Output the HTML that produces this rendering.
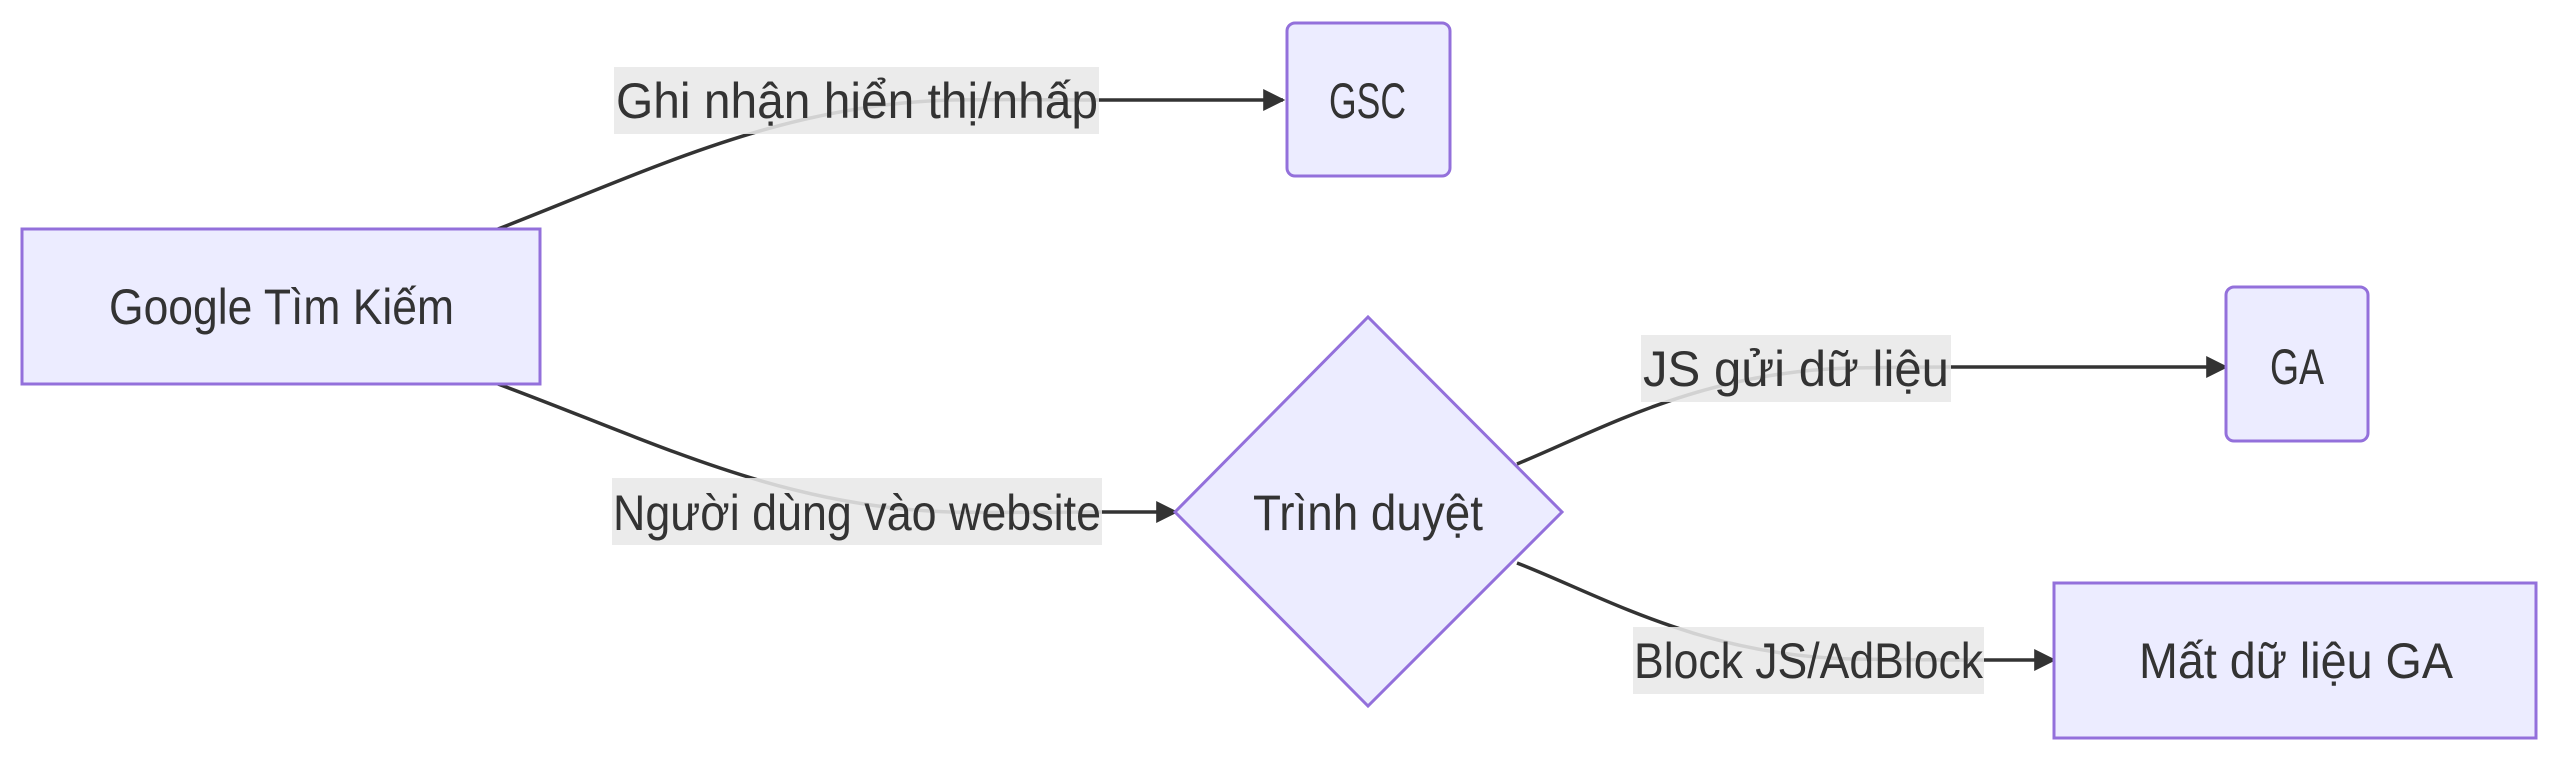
<!DOCTYPE html>
<html><head><meta charset="utf-8"><style>
html,body{margin:0;padding:0;background:#fff;width:2560px;height:760px;overflow:hidden}
text{font-family:"Liberation Sans",sans-serif;fill:#333;font-size:50px}
</style></head><body>
<svg width="2560" height="760" viewBox="0 0 2560 760" xmlns="http://www.w3.org/2000/svg">
<defs><marker id="b" viewBox="0 0 10 10" refX="9" refY="5" markerWidth="22" markerHeight="22" markerUnits="userSpaceOnUse" orient="auto"><path d="M0,0 L10,5 L0,10z" fill="#333"/></marker></defs>
<g fill="none" stroke="#333" stroke-width="3.5">
<path d="M498,229 C650,170 780,105 950,100 C1010,99 1050,100 1100,100 L1283,100" marker-end="url(#b)"/>
<path d="M498,384 C650,440 780,507 950,512 C1010,513 1050,512 1100,512 L1176,512" marker-end="url(#b)"/>
<path d="M1517,464 C1600,430 1700,372 1850,368 C1900,367 1930,367 1950,367 L2226,367" marker-end="url(#b)"/>
<path d="M1517,563 C1600,595 1700,655 1850,659 C1920,660 1950,660 1984,660 L2054,660" marker-end="url(#b)"/>
</g>
<g fill="#e8e8e8" opacity="0.88">
<rect x="614" y="67" width="485" height="67"/>
<rect x="612" y="478" width="490" height="67"/>
<rect x="1641" y="335" width="310" height="67"/>
<rect x="1633" y="627" width="351" height="67"/>
</g>
<g fill="#ECECFF" stroke="#9370DB" stroke-width="3">
<rect x="22" y="229" width="518" height="155"/>
<rect x="1287" y="23" width="163" height="153" rx="8"/>
<rect x="2226" y="287" width="142" height="154" rx="8"/>
<rect x="2054" y="583" width="482" height="155"/>
<polygon points="1175,512 1368,317 1562,512 1368,706"/>
</g>
<g text-anchor="start">
<text x="616" y="118" textLength="482" lengthAdjust="spacingAndGlyphs">Ghi nhận hiển thị/nhấp</text>
<text x="613" y="530" textLength="488" lengthAdjust="spacingAndGlyphs">Người dùng vào website</text>
<text x="1643" y="386" textLength="306" lengthAdjust="spacingAndGlyphs">JS gửi dữ liệu</text>
<text x="1634" y="678" textLength="349" lengthAdjust="spacingAndGlyphs">Block JS/AdBlock</text>
<text x="109" y="324" textLength="345" lengthAdjust="spacingAndGlyphs">Google Tìm Kiếm</text>
<text x="1329" y="118" textLength="77" lengthAdjust="spacingAndGlyphs">GSC</text>
<text x="2270" y="384" textLength="54" lengthAdjust="spacingAndGlyphs">GA</text>
<text x="1253" y="530" textLength="230" lengthAdjust="spacingAndGlyphs">Trình duyệt</text>
<text x="2139" y="678" textLength="314" lengthAdjust="spacingAndGlyphs">Mất dữ liệu GA</text>
</g>
</svg>
</body></html>
